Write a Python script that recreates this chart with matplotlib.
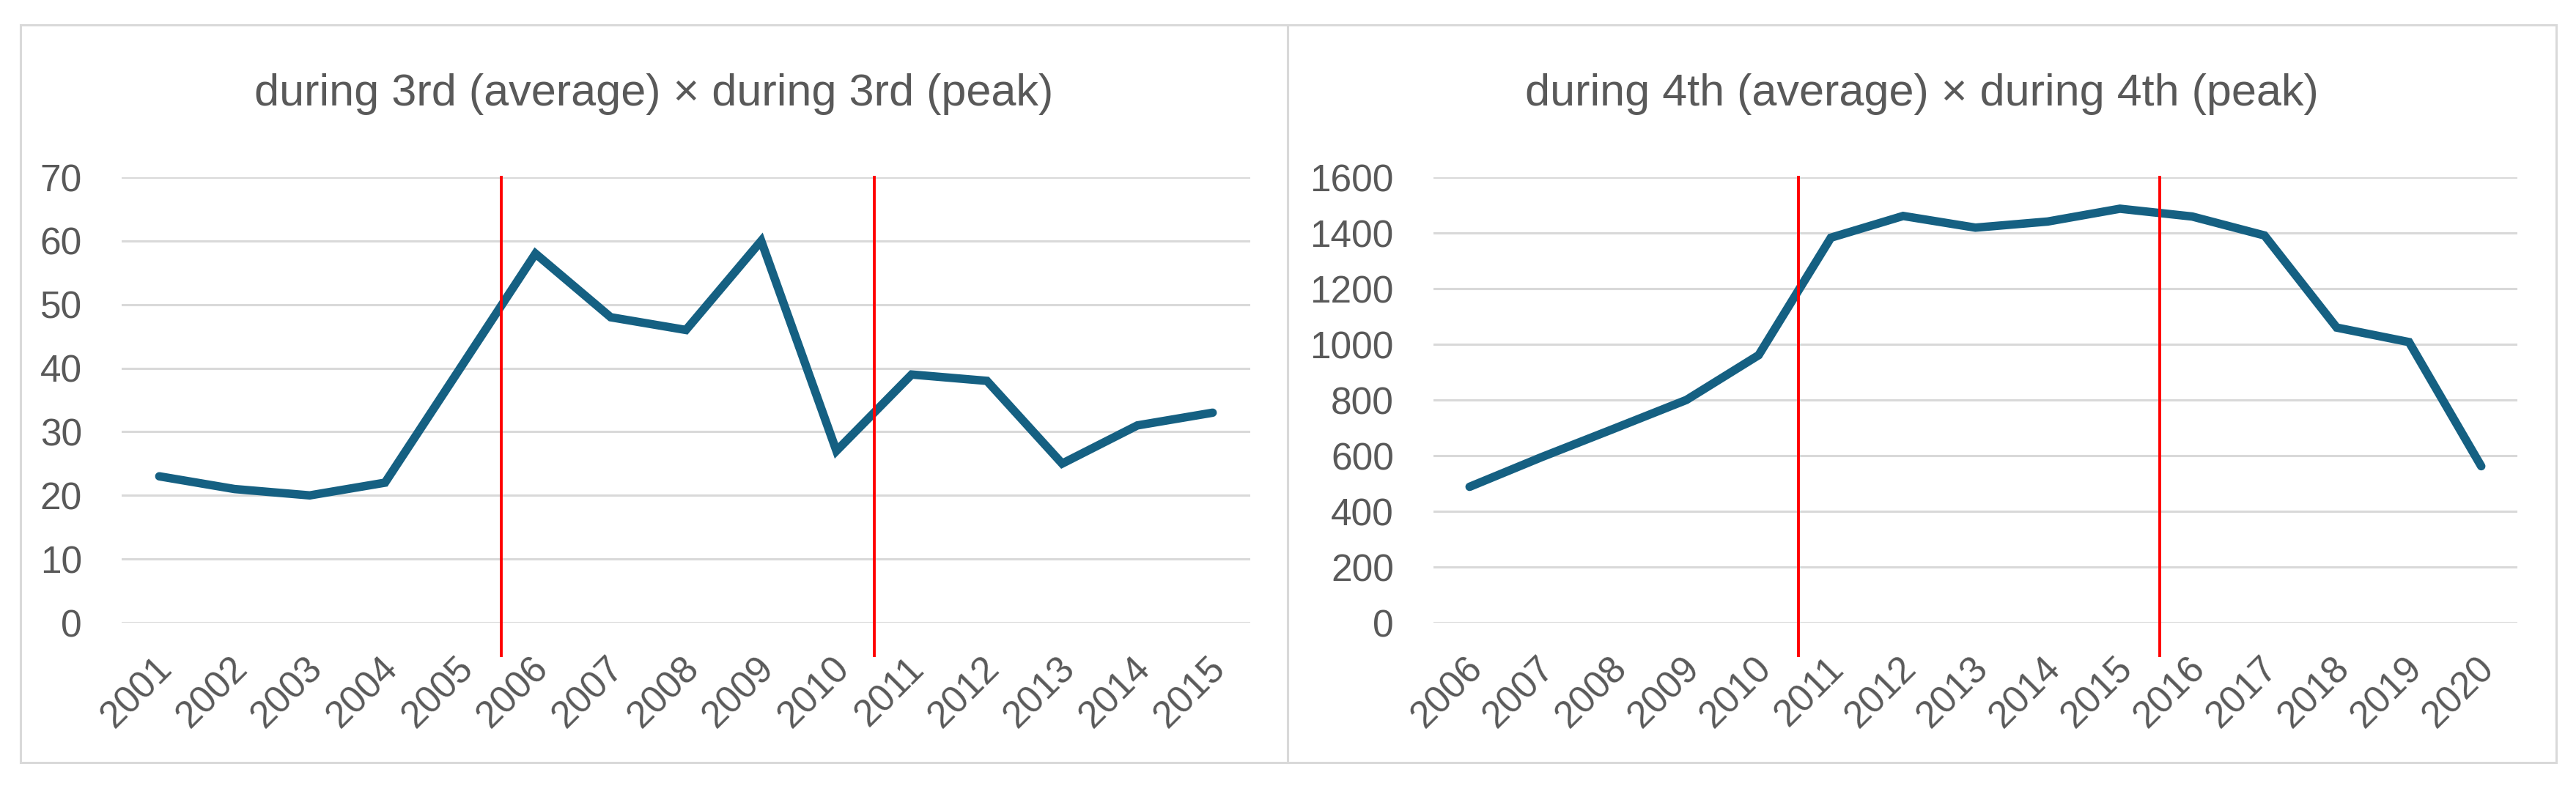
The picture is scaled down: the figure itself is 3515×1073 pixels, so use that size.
import matplotlib.pyplot as plt
from matplotlib.patches import Rectangle
from matplotlib.transforms import ScaledTranslation

# ── Data ──
years_3rd = ["2001", "2002", "2003", "2004", "2005", "2006", "2007", "2008",
             "2009", "2010", "2011", "2012", "2013", "2014", "2015"]
values_3rd = [23, 21, 20, 22, 40, 58, 48, 46, 60, 27, 39, 38, 25, 31, 33]
marks_3rd = [4.55, 9.5]          # red separators (category positions)

years_4th = ["2006", "2007", "2008", "2009", "2010", "2011", "2012", "2013",
             "2014", "2015", "2016", "2017", "2018", "2019", "2020"]
values_4th = [488, 595, 697, 800, 961, 1383, 1461, 1419, 1441, 1487,
              1459, 1391, 1060, 1008, 562]
marks_4th = [4.55, 9.55]

title_3rd = "during 3rd (average) \u00d7 during 3rd (peak)"
title_4th = "during 4th (average) \u00d7 during 4th (peak)"

# ── Style ──
W, H = 3515, 1073
LINE_C = "#156082"
GRID_C = "#d9d9d9"
TEXT_C = "#595959"
TITLE_FONT = ["Liberation Sans", "DejaVu Sans"]
TICK_FONT = ["Liberation Sans", "DejaVu Sans"]

fig = plt.figure(figsize=(W / 100, H / 100), dpi=100)
fig.patch.set_facecolor("white")


def box(x0, y0, x1, y1):
    # pixel box (top-left origin) -> figure fraction [left, bottom, w, h]
    return [x0 / W, 1 - y1 / H, (x1 - x0) / W, (y1 - y0) / H]


def panel(x0, x1, ax_x0, ax_x1, years, values, marks, ymax, ystep, title):
    # chart frame
    fx, fy, fw, fh = box(x0, 34, x1, 1041)
    fig.patches.append(Rectangle((fx, fy), fw, fh, transform=fig.transFigure,
                                 fill=False, edgecolor=GRID_C, lw=2.2))
    fig.text((x0 + x1) / 2 / W, 1 - 144 / H, title, ha="center", va="baseline",
             fontsize=44, color=TEXT_C, family=TITLE_FONT)

    ax = fig.add_axes(box(ax_x0, 242, ax_x1, 850))
    idx = list(range(len(years)))
    ax.plot(idx, values, color=LINE_C, lw=8.3, solid_joinstyle="miter",
            solid_capstyle="round", zorder=3)
    for m in marks:
        ax.axvline(m, ymin=-0.074, ymax=1, color="#ff0000", lw=2.8,
                   clip_on=False, zorder=4)

    ax.set_xlim(-0.5, len(years) - 0.5)
    ax.set_ylim(0, ymax)
    ax.set_yticks(range(0, ymax + 1, ystep))
    ax.set_xticks(idx)
    ax.set_xticklabels(years, rotation=45, ha="right", va="center",
                       rotation_mode="anchor")
    ax.grid(axis="y", color=GRID_C, lw=2.2, zorder=0)
    ax.set_axisbelow(True)
    for s in ax.spines.values():
        s.set_visible(False)
    ax.tick_params(axis="both", length=0, colors=TEXT_C, labelsize=37)
    ax.tick_params(axis="y", pad=39)
    ax.tick_params(axis="x", pad=40)
    shift = ScaledTranslation(0.10, 0, fig.dpi_scale_trans)
    for lab in ax.get_xticklabels():
        lab.set_transform(lab.get_transform() + shift)
    for lab in ax.get_xticklabels() + ax.get_yticklabels():
        lab.set_family(TICK_FONT)
    return ax


panel(28, 1757, 166, 1706, years_3rd, values_3rd, marks_3rd, 70, 10, title_3rd)
panel(1757, 3488, 1956, 3435, years_4th, values_4th, marks_4th, 1600, 200, title_4th)

plt.savefig("out.png", dpi=100)
